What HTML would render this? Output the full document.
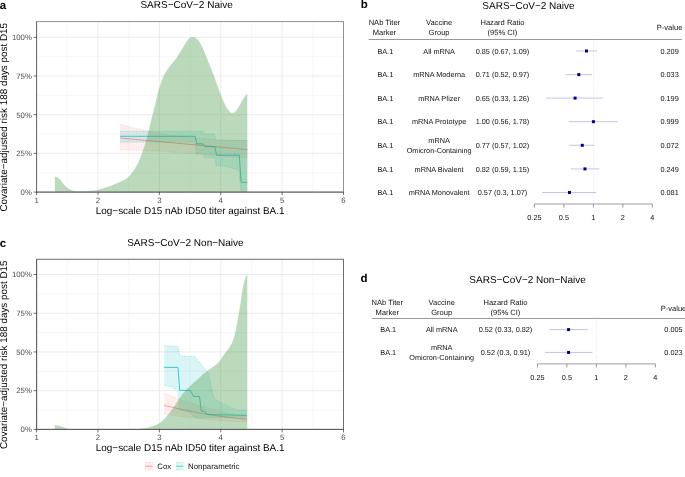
<!DOCTYPE html>
<html><head><meta charset="utf-8"><title>Figure</title>
<style>html,body{margin:0;padding:0;background:#fff;}body{width:685px;height:477px;overflow:hidden;font-family:"Liberation Sans", Arial, Helvetica, sans-serif;}svg text{font-family:"Liberation Sans", Arial, Helvetica, sans-serif;}</style>
</head><body>
<svg width="685" height="477" viewBox="0 0 685 477" font-family='"Liberation Sans", Arial, Helvetica, sans-serif' style="display:block;will-change:transform" text-rendering="geometricPrecision">
<rect x="36.6" y="21.6" width="306.9" height="170.5" fill="#fff"/>
<line x1="67.29" x2="67.29" y1="21.6" y2="192.1" stroke="#ededed" stroke-width="0.45"/>
<line x1="128.67" x2="128.67" y1="21.6" y2="192.1" stroke="#ededed" stroke-width="0.45"/>
<line x1="190.05" x2="190.05" y1="21.6" y2="192.1" stroke="#ededed" stroke-width="0.45"/>
<line x1="251.43" x2="251.43" y1="21.6" y2="192.1" stroke="#ededed" stroke-width="0.45"/>
<line x1="312.81" x2="312.81" y1="21.6" y2="192.1" stroke="#ededed" stroke-width="0.45"/>
<line x1="36.6" x2="343.5" y1="172.75" y2="172.75" stroke="#ededed" stroke-width="0.45"/>
<line x1="36.6" x2="343.5" y1="134.05" y2="134.05" stroke="#ededed" stroke-width="0.45"/>
<line x1="36.6" x2="343.5" y1="95.35" y2="95.35" stroke="#ededed" stroke-width="0.45"/>
<line x1="36.6" x2="343.5" y1="56.65" y2="56.65" stroke="#ededed" stroke-width="0.45"/>
<line x1="97.98" x2="97.98" y1="21.6" y2="192.1" stroke="#e6e6e6" stroke-width="0.8"/>
<line x1="159.36" x2="159.36" y1="21.6" y2="192.1" stroke="#e6e6e6" stroke-width="0.8"/>
<line x1="220.74" x2="220.74" y1="21.6" y2="192.1" stroke="#e6e6e6" stroke-width="0.8"/>
<line x1="282.12" x2="282.12" y1="21.6" y2="192.1" stroke="#e6e6e6" stroke-width="0.8"/>
<line x1="36.6" x2="343.5" y1="153.40" y2="153.40" stroke="#e6e6e6" stroke-width="0.8"/>
<line x1="36.6" x2="343.5" y1="114.70" y2="114.70" stroke="#e6e6e6" stroke-width="0.8"/>
<line x1="36.6" x2="343.5" y1="76.00" y2="76.00" stroke="#e6e6e6" stroke-width="0.8"/>
<line x1="36.6" x2="343.5" y1="37.30" y2="37.30" stroke="#e6e6e6" stroke-width="0.8"/>
<path d="M120.10,124.50 L123.29,125.28 L127.66,126.37 L132.86,127.66 L138.55,129.02 L144.38,130.34 L150.00,131.50 L155.54,132.53 L161.29,133.54 L167.18,134.51 L173.14,135.42 L179.11,136.26 L185.00,137.00 L190.92,137.65 L196.95,138.21 L202.97,138.69 L208.90,139.11 L214.61,139.48 L220.00,139.80 L225.32,140.06 L230.71,140.24 L235.89,140.38 L240.58,140.47 L244.51,140.54 L247.40,140.60 L247.40,158.20 L200.00,154.00 L160.00,151.20 L120.10,149.60Z" fill="#F8766D" fill-opacity="0.12" stroke="none"/>
<path d="M120.10,124.50 L123.29,125.28 L127.66,126.37 L132.86,127.66 L138.55,129.02 L144.38,130.34 L150.00,131.50 L155.54,132.53 L161.29,133.54 L167.18,134.51 L173.14,135.42 L179.11,136.26 L185.00,137.00 L190.92,137.65 L196.95,138.21 L202.97,138.69 L208.90,139.11 L214.61,139.48 L220.00,139.80 L225.32,140.06 L230.71,140.24 L235.89,140.38 L240.58,140.47 L244.51,140.54 L247.40,140.60" fill="none" stroke="#F8766D" stroke-opacity="0.7" stroke-width="0.55" stroke-dasharray="0.8 1.5"/>
<path d="M120.10,149.60 L160.00,151.20 L200.00,154.00 L247.40,158.20" fill="none" stroke="#F8766D" stroke-opacity="0.7" stroke-width="0.55" stroke-dasharray="0.8 1.5"/>
<path d="M120.10,131.20 L203.00,131.20 L204.00,133.90 L214.60,133.90 L216.00,140.40 L247.40,140.40 L247.40,192.10 L240.80,192.10 L239.00,170.00 L225.00,166.30 L216.50,166.00 L214.60,157.80 L204.50,157.80 L203.00,153.70 L196.50,153.70 L195.00,142.10 L120.10,142.10Z" fill="#00BFC4" fill-opacity="0.15" stroke="none"/>
<path d="M120.10,131.20 L203.00,131.20 L204.00,133.90 L214.60,133.90 L216.00,140.40 L247.40,140.40" fill="none" stroke="#00BFC4" stroke-opacity="0.8" stroke-width="0.55" stroke-dasharray="0.8 1.5"/>
<path d="M120.10,142.10 L195.00,142.10 L196.50,153.70 L203.00,153.70 L204.50,157.80 L214.60,157.80 L216.50,166.00 L225.00,166.30 L239.00,170.00 L240.80,192.10 L247.40,192.10" fill="none" stroke="#00BFC4" stroke-opacity="0.8" stroke-width="0.55" stroke-dasharray="0.8 1.5"/>
<path d="M120.10,138.00 L247.40,149.60" fill="none" stroke="#F8766D" stroke-width="0.7"/>
<path d="M120.10,136.30 L195.10,136.30 L196.80,143.90 L203.30,143.90 L205.00,146.60 L214.70,146.60 L216.60,155.20 L239.30,155.20 L241.10,182.30 L247.40,182.30" fill="none" stroke="#00BFC4" stroke-width="0.75" stroke-linejoin="round"/>
<path d="M54.90,192.10 L54.90,176.60 L55.17,176.67 L55.53,176.74 L55.96,176.83 L56.44,176.96 L56.93,177.15 L57.40,177.40 L57.86,177.71 L58.32,178.07 L58.80,178.48 L59.30,178.95 L59.83,179.49 L60.40,180.10 L61.02,180.83 L61.69,181.68 L62.38,182.60 L63.09,183.53 L63.80,184.41 L64.50,185.20 L65.18,185.90 L65.87,186.55 L66.55,187.16 L67.23,187.72 L67.92,188.23 L68.60,188.70 L69.26,189.11 L69.89,189.46 L70.52,189.77 L71.19,190.04 L71.90,190.28 L72.70,190.50 L73.58,190.70 L74.51,190.88 L75.49,191.03 L76.54,191.14 L77.64,191.24 L78.80,191.30 L80.02,191.34 L81.30,191.34 L82.64,191.33 L84.04,191.28 L85.49,191.20 L87.00,191.10 L88.61,190.97 L90.33,190.81 L92.10,190.63 L93.87,190.42 L95.59,190.18 L97.20,189.90 L98.68,189.59 L100.08,189.24 L101.43,188.86 L102.74,188.46 L104.06,188.04 L105.40,187.60 L106.77,187.15 L108.13,186.67 L109.50,186.17 L110.87,185.66 L112.23,185.14 L113.60,184.60 L114.99,184.05 L116.41,183.48 L117.83,182.89 L119.22,182.30 L120.55,181.70 L121.80,181.10 L122.94,180.54 L123.99,180.02 L124.98,179.50 L125.94,178.92 L126.91,178.24 L127.90,177.40 L128.94,176.37 L130.01,175.17 L131.08,173.87 L132.11,172.52 L133.10,171.18 L134.00,169.90 L134.80,168.72 L135.51,167.59 L136.18,166.47 L136.81,165.31 L137.44,164.07 L138.10,162.70 L138.78,161.20 L139.47,159.60 L140.15,157.92 L140.83,156.17 L141.52,154.36 L142.20,152.50 L142.91,150.52 L143.64,148.40 L144.38,146.22 L145.09,144.07 L145.74,142.04 L146.30,140.20 L146.74,138.67 L147.06,137.40 L147.33,136.25 L147.59,135.06 L147.90,133.70 L148.30,132.00 L148.81,129.92 L149.39,127.55 L150.01,125.01 L150.65,122.38 L151.29,119.78 L151.90,117.30 L152.49,114.94 L153.08,112.60 L153.66,110.29 L154.24,108.00 L154.82,105.70 L155.40,103.40 L155.97,101.05 L156.54,98.67 L157.10,96.28 L157.66,93.94 L158.23,91.70 L158.80,89.60 L159.38,87.63 L159.96,85.75 L160.55,83.97 L161.14,82.28 L161.72,80.69 L162.30,79.20 L162.86,77.85 L163.39,76.64 L163.93,75.53 L164.47,74.47 L165.06,73.41 L165.70,72.30 L166.40,71.15 L167.13,70.00 L167.91,68.86 L168.71,67.71 L169.54,66.56 L170.40,65.40 L171.29,64.26 L172.22,63.16 L173.18,62.04 L174.16,60.90 L175.13,59.70 L176.10,58.40 L177.07,56.98 L178.07,55.44 L179.07,53.84 L180.05,52.23 L181.00,50.67 L181.90,49.20 L182.75,47.80 L183.56,46.40 L184.34,45.06 L185.09,43.79 L185.81,42.62 L186.50,41.60 L187.16,40.73 L187.78,39.97 L188.37,39.33 L188.93,38.78 L189.48,38.31 L190.00,37.90 L190.49,37.57 L190.95,37.33 L191.38,37.16 L191.81,37.06 L192.24,37.01 L192.70,37.00 L193.18,37.01 L193.66,37.06 L194.15,37.16 L194.65,37.33 L195.17,37.57 L195.70,37.90 L196.24,38.30 L196.79,38.74 L197.35,39.26 L197.93,39.89 L198.55,40.66 L199.20,41.60 L199.90,42.74 L200.65,44.06 L201.43,45.51 L202.23,47.08 L203.02,48.72 L203.80,50.40 L204.57,52.16 L205.33,54.03 L206.10,55.98 L206.87,57.97 L207.63,59.95 L208.40,61.90 L209.17,63.80 L209.93,65.69 L210.70,67.58 L211.47,69.48 L212.23,71.41 L213.00,73.40 L213.77,75.45 L214.53,77.54 L215.29,79.67 L216.06,81.82 L216.83,83.97 L217.60,86.10 L218.38,88.26 L219.16,90.46 L219.95,92.67 L220.74,94.83 L221.52,96.89 L222.30,98.80 L223.09,100.59 L223.89,102.31 L224.68,103.93 L225.46,105.43 L226.20,106.80 L226.90,108.00 L227.55,109.03 L228.16,109.89 L228.74,110.62 L229.29,111.23 L229.81,111.75 L230.30,112.20 L230.74,112.57 L231.12,112.84 L231.48,113.01 L231.82,113.11 L232.19,113.13 L232.60,113.10 L233.05,113.03 L233.51,112.91 L234.00,112.72 L234.51,112.44 L235.04,112.04 L235.60,111.50 L236.20,110.78 L236.85,109.90 L237.52,108.90 L238.20,107.83 L238.86,106.75 L239.50,105.70 L240.11,104.65 L240.70,103.55 L241.28,102.43 L241.85,101.33 L242.42,100.28 L243.00,99.30 L243.61,98.37 L244.27,97.45 L244.92,96.57 L245.53,95.79 L246.07,95.11 L246.50,94.60 L246.80,94.28 L247.00,94.13 L247.12,94.11 L247.19,94.14 L247.24,94.19 L247.30,94.20 L247.30,192.10Z" fill="#4d9f4d" fill-opacity="0.38" stroke="none"/>
<rect x="36.6" y="21.6" width="306.9" height="170.5" fill="none" stroke="#808080" stroke-width="0.85"/>
<line x1="36.6" x2="36.6" y1="21.6" y2="192.1" stroke="#505050" stroke-width="0.65"/>
<line x1="36.300000000000004" x2="343.8" y1="192.1" y2="192.1" stroke="#5a5a5a" stroke-width="0.88"/>
<line x1="33.6" x2="36.6" y1="192.10" y2="192.10" stroke="#333" stroke-width="0.7"/>
<text x="31.90" y="194.90" text-anchor="end" font-size="7.8" fill="#4d4d4d">0%</text>
<line x1="33.6" x2="36.6" y1="153.40" y2="153.40" stroke="#333" stroke-width="0.7"/>
<text x="31.90" y="156.20" text-anchor="end" font-size="7.8" fill="#4d4d4d">25%</text>
<line x1="33.6" x2="36.6" y1="114.70" y2="114.70" stroke="#333" stroke-width="0.7"/>
<text x="31.90" y="117.50" text-anchor="end" font-size="7.8" fill="#4d4d4d">50%</text>
<line x1="33.6" x2="36.6" y1="76.00" y2="76.00" stroke="#333" stroke-width="0.7"/>
<text x="31.90" y="78.80" text-anchor="end" font-size="7.8" fill="#4d4d4d">75%</text>
<line x1="33.6" x2="36.6" y1="37.30" y2="37.30" stroke="#333" stroke-width="0.7"/>
<text x="31.90" y="40.10" text-anchor="end" font-size="7.8" fill="#4d4d4d">100%</text>
<line x1="36.60" x2="36.60" y1="192.1" y2="195.1" stroke="#333" stroke-width="0.7"/>
<text x="36.60" y="202.85" text-anchor="middle" font-size="7.8" fill="#4d4d4d">1</text>
<line x1="97.98" x2="97.98" y1="192.1" y2="195.1" stroke="#333" stroke-width="0.7"/>
<text x="97.98" y="202.85" text-anchor="middle" font-size="7.8" fill="#4d4d4d">2</text>
<line x1="159.36" x2="159.36" y1="192.1" y2="195.1" stroke="#333" stroke-width="0.7"/>
<text x="159.36" y="202.85" text-anchor="middle" font-size="7.8" fill="#4d4d4d">3</text>
<line x1="220.74" x2="220.74" y1="192.1" y2="195.1" stroke="#333" stroke-width="0.7"/>
<text x="220.74" y="202.85" text-anchor="middle" font-size="7.8" fill="#4d4d4d">4</text>
<line x1="282.12" x2="282.12" y1="192.1" y2="195.1" stroke="#333" stroke-width="0.7"/>
<text x="282.12" y="202.85" text-anchor="middle" font-size="7.8" fill="#4d4d4d">5</text>
<line x1="343.50" x2="343.50" y1="192.1" y2="195.1" stroke="#333" stroke-width="0.7"/>
<text x="343.50" y="202.85" text-anchor="middle" font-size="7.8" fill="#4d4d4d">6</text>
<text x="190.15" y="213.70" text-anchor="middle" font-size="9.91" fill="#000">Log−scale D15 nAb ID50 titer against BA.1</text>
<text transform="translate(6.9,117.25) rotate(-90)" text-anchor="middle" font-size="9.89" fill="#000">Covariate−adjusted risk 188 days post D15</text>
<text x="186.6" y="8.3" text-anchor="middle" font-size="10" fill="#000">SARS−CoV−2 Naive</text>
<text x="-0.3" y="9.3" font-size="11.5" font-weight="bold" fill="#000">a</text>
<rect x="36.6" y="259.3" width="306.9" height="170.09999999999997" fill="#fff"/>
<line x1="67.29" x2="67.29" y1="259.3" y2="429.4" stroke="#ededed" stroke-width="0.45"/>
<line x1="128.67" x2="128.67" y1="259.3" y2="429.4" stroke="#ededed" stroke-width="0.45"/>
<line x1="190.05" x2="190.05" y1="259.3" y2="429.4" stroke="#ededed" stroke-width="0.45"/>
<line x1="251.43" x2="251.43" y1="259.3" y2="429.4" stroke="#ededed" stroke-width="0.45"/>
<line x1="312.81" x2="312.81" y1="259.3" y2="429.4" stroke="#ededed" stroke-width="0.45"/>
<line x1="36.6" x2="343.5" y1="410.04" y2="410.04" stroke="#ededed" stroke-width="0.45"/>
<line x1="36.6" x2="343.5" y1="371.31" y2="371.31" stroke="#ededed" stroke-width="0.45"/>
<line x1="36.6" x2="343.5" y1="332.59" y2="332.59" stroke="#ededed" stroke-width="0.45"/>
<line x1="36.6" x2="343.5" y1="293.86" y2="293.86" stroke="#ededed" stroke-width="0.45"/>
<line x1="97.98" x2="97.98" y1="259.3" y2="429.4" stroke="#e6e6e6" stroke-width="0.8"/>
<line x1="159.36" x2="159.36" y1="259.3" y2="429.4" stroke="#e6e6e6" stroke-width="0.8"/>
<line x1="220.74" x2="220.74" y1="259.3" y2="429.4" stroke="#e6e6e6" stroke-width="0.8"/>
<line x1="282.12" x2="282.12" y1="259.3" y2="429.4" stroke="#e6e6e6" stroke-width="0.8"/>
<line x1="36.6" x2="343.5" y1="390.67" y2="390.67" stroke="#e6e6e6" stroke-width="0.8"/>
<line x1="36.6" x2="343.5" y1="351.95" y2="351.95" stroke="#e6e6e6" stroke-width="0.8"/>
<line x1="36.6" x2="343.5" y1="313.23" y2="313.23" stroke="#e6e6e6" stroke-width="0.8"/>
<line x1="36.6" x2="343.5" y1="274.50" y2="274.50" stroke="#e6e6e6" stroke-width="0.8"/>
<path d="M164.20,393.40 L165.87,394.06 L168.14,394.97 L170.85,396.04 L173.84,397.21 L176.94,398.39 L180.00,399.50 L183.03,400.56 L186.17,401.64 L189.43,402.73 L192.81,403.82 L196.33,404.91 L200.00,406.00 L203.91,407.11 L208.07,408.26 L212.38,409.41 L216.70,410.52 L220.95,411.56 L225.00,412.50 L229.09,413.36 L233.37,414.17 L237.56,414.91 L241.41,415.56 L244.64,416.09 L247.00,416.50 L247.00,422.30 L244.10,422.12 L240.11,421.87 L235.38,421.58 L230.22,421.25 L224.99,420.88 L220.00,420.50 L215.12,420.09 L210.07,419.63 L204.93,419.15 L199.80,418.64 L194.79,418.12 L190.00,417.60 L185.16,417.02 L180.13,416.38 L175.22,415.72 L170.73,415.10 L166.96,414.58 L164.20,414.20Z" fill="#F8766D" fill-opacity="0.12" stroke="none"/>
<path d="M164.20,393.40 L165.87,394.06 L168.14,394.97 L170.85,396.04 L173.84,397.21 L176.94,398.39 L180.00,399.50 L183.03,400.56 L186.17,401.64 L189.43,402.73 L192.81,403.82 L196.33,404.91 L200.00,406.00 L203.91,407.11 L208.07,408.26 L212.38,409.41 L216.70,410.52 L220.95,411.56 L225.00,412.50 L229.09,413.36 L233.37,414.17 L237.56,414.91 L241.41,415.56 L244.64,416.09 L247.00,416.50" fill="none" stroke="#F8766D" stroke-opacity="0.7" stroke-width="0.55" stroke-dasharray="0.8 1.5"/>
<path d="M164.20,414.20 L166.96,414.58 L170.73,415.10 L175.22,415.72 L180.13,416.38 L185.16,417.02 L190.00,417.60 L194.79,418.12 L199.80,418.64 L204.93,419.15 L210.07,419.63 L215.12,420.09 L220.00,420.50 L224.99,420.88 L230.22,421.25 L235.38,421.58 L240.11,421.87 L244.10,422.12 L247.00,422.30" fill="none" stroke="#F8766D" stroke-opacity="0.7" stroke-width="0.55" stroke-dasharray="0.8 1.5"/>
<path d="M164.20,345.50 L178.00,346.60 L180.00,355.80 L194.90,356.50 L208.00,372.70 L210.80,384.00 L213.00,394.00 L215.30,399.30 L220.00,402.00 L232.30,408.40 L239.20,410.30 L247.00,410.30 L247.00,417.30 L210.00,417.50 L200.40,418.10 L193.50,416.50 L190.00,413.00 L179.70,409.60 L178.00,390.40 L172.30,387.20 L164.20,385.40Z" fill="#00BFC4" fill-opacity="0.15" stroke="none"/>
<path d="M164.20,345.50 L178.00,346.60 L180.00,355.80 L194.90,356.50 L208.00,372.70 L210.80,384.00 L213.00,394.00 L215.30,399.30 L220.00,402.00 L232.30,408.40 L239.20,410.30 L247.00,410.30" fill="none" stroke="#00BFC4" stroke-opacity="0.8" stroke-width="0.55" stroke-dasharray="0.8 1.5"/>
<path d="M164.20,385.40 L172.30,387.20 L178.00,390.40 L179.70,409.60 L190.00,413.00 L193.50,416.50 L200.40,418.10 L210.00,417.50 L247.00,417.30" fill="none" stroke="#00BFC4" stroke-opacity="0.8" stroke-width="0.55" stroke-dasharray="0.8 1.5"/>
<path d="M164.20,405.40 L166.96,406.04 L170.73,406.93 L175.22,407.99 L180.13,409.11 L185.16,410.21 L190.00,411.20 L194.79,412.10 L199.80,413.00 L204.93,413.87 L210.07,414.70 L215.12,415.49 L220.00,416.20 L224.99,416.86 L230.22,417.49 L235.38,418.06 L240.11,418.57 L244.10,418.98 L247.00,419.30" fill="none" stroke="#F8766D" stroke-width="0.7"/>
<path d="M164.20,367.40 L178.00,367.40 L179.70,390.40 L190.30,390.40 L193.50,396.40 L199.50,396.40 L201.30,411.20 L204.60,411.20 L206.90,414.60 L247.00,415.30" fill="none" stroke="#00BFC4" stroke-width="0.75" stroke-linejoin="round"/>
<path d="M54.80,429.40 L54.80,424.90 L55.54,425.06 L56.57,425.28 L57.78,425.55 L59.06,425.86 L60.30,426.20 L61.53,426.60 L62.82,427.07 L64.13,427.56 L65.40,428.02 L66.60,428.40 L67.71,428.69 L68.76,428.92 L69.78,429.12 L70.75,429.27 L71.70,429.40 L72.68,429.49 L73.68,429.55 L74.63,429.57 L75.43,429.59 L76.00,429.60 L125.00,429.60 L125.58,429.58 L126.34,429.57 L127.27,429.54 L128.32,429.51 L129.48,429.46 L130.70,429.40 L132.07,429.31 L133.62,429.21 L135.27,429.09 L136.94,428.97 L138.55,428.83 L140.00,428.70 L141.33,428.56 L142.62,428.41 L143.84,428.26 L144.97,428.11 L146.00,427.95 L146.90,427.80 L147.62,427.66 L148.16,427.53 L148.59,427.39 L148.99,427.25 L149.43,427.09 L150.00,426.90 L150.69,426.68 L151.45,426.44 L152.25,426.17 L153.07,425.90 L153.90,425.60 L154.70,425.30 L155.46,425.02 L156.21,424.77 L156.95,424.51 L157.71,424.19 L158.52,423.77 L159.40,423.20 L160.34,422.50 L161.32,421.70 L162.35,420.81 L163.42,419.80 L164.54,418.66 L165.70,417.40 L166.92,415.97 L168.21,414.39 L169.55,412.68 L170.91,410.88 L172.26,409.04 L173.60,407.20 L174.92,405.29 L176.24,403.27 L177.56,401.21 L178.87,399.16 L180.19,397.21 L181.50,395.40 L182.80,393.75 L184.10,392.21 L185.40,390.75 L186.70,389.36 L188.00,388.02 L189.30,386.70 L190.61,385.44 L191.93,384.24 L193.24,383.10 L194.56,381.98 L195.88,380.85 L197.20,379.70 L198.52,378.50 L199.84,377.28 L201.16,376.06 L202.47,374.85 L203.79,373.69 L205.10,372.60 L206.42,371.59 L207.76,370.65 L209.10,369.75 L210.41,368.87 L211.69,368.00 L212.90,367.10 L214.05,366.20 L215.17,365.33 L216.24,364.45 L217.27,363.55 L218.25,362.61 L219.20,361.60 L220.09,360.49 L220.93,359.30 L221.72,358.06 L222.49,356.82 L223.24,355.62 L224.00,354.50 L224.77,353.47 L225.53,352.50 L226.28,351.57 L227.01,350.66 L227.72,349.74 L228.40,348.80 L229.04,347.88 L229.65,347.00 L230.24,346.12 L230.80,345.19 L231.36,344.16 L231.90,343.00 L232.43,341.72 L232.95,340.36 L233.45,338.90 L233.94,337.33 L234.42,335.64 L234.90,333.80 L235.37,331.79 L235.82,329.63 L236.26,327.34 L236.70,324.95 L237.15,322.49 L237.60,320.00 L238.06,317.44 L238.54,314.77 L239.01,312.04 L239.49,309.28 L239.95,306.52 L240.40,303.80 L240.84,301.03 L241.26,298.17 L241.68,295.32 L242.09,292.56 L242.50,289.99 L242.90,287.70 L243.30,285.69 L243.69,283.90 L244.07,282.29 L244.46,280.85 L244.83,279.56 L245.20,278.40 L245.59,277.39 L245.99,276.56 L246.39,275.87 L246.76,275.31 L247.07,274.86 L247.30,274.50 L247.30,429.40Z" fill="#4d9f4d" fill-opacity="0.38" stroke="none"/>
<rect x="36.6" y="259.3" width="306.9" height="170.09999999999997" fill="none" stroke="#6e6e6e" stroke-width="1.0"/>
<line x1="36.6" x2="36.6" y1="259.3" y2="429.4" stroke="#505050" stroke-width="0.65"/>
<line x1="36.300000000000004" x2="343.8" y1="429.4" y2="429.4" stroke="#5a5a5a" stroke-width="0.88"/>
<line x1="33.6" x2="36.6" y1="429.40" y2="429.40" stroke="#333" stroke-width="0.7"/>
<text x="31.90" y="432.20" text-anchor="end" font-size="7.8" fill="#4d4d4d">0%</text>
<line x1="33.6" x2="36.6" y1="390.67" y2="390.67" stroke="#333" stroke-width="0.7"/>
<text x="31.90" y="393.47" text-anchor="end" font-size="7.8" fill="#4d4d4d">25%</text>
<line x1="33.6" x2="36.6" y1="351.95" y2="351.95" stroke="#333" stroke-width="0.7"/>
<text x="31.90" y="354.75" text-anchor="end" font-size="7.8" fill="#4d4d4d">50%</text>
<line x1="33.6" x2="36.6" y1="313.23" y2="313.23" stroke="#333" stroke-width="0.7"/>
<text x="31.90" y="316.03" text-anchor="end" font-size="7.8" fill="#4d4d4d">75%</text>
<line x1="33.6" x2="36.6" y1="274.50" y2="274.50" stroke="#333" stroke-width="0.7"/>
<text x="31.90" y="277.30" text-anchor="end" font-size="7.8" fill="#4d4d4d">100%</text>
<line x1="36.60" x2="36.60" y1="429.4" y2="432.4" stroke="#333" stroke-width="0.7"/>
<text x="36.60" y="440.15" text-anchor="middle" font-size="7.8" fill="#4d4d4d">1</text>
<line x1="97.98" x2="97.98" y1="429.4" y2="432.4" stroke="#333" stroke-width="0.7"/>
<text x="97.98" y="440.15" text-anchor="middle" font-size="7.8" fill="#4d4d4d">2</text>
<line x1="159.36" x2="159.36" y1="429.4" y2="432.4" stroke="#333" stroke-width="0.7"/>
<text x="159.36" y="440.15" text-anchor="middle" font-size="7.8" fill="#4d4d4d">3</text>
<line x1="220.74" x2="220.74" y1="429.4" y2="432.4" stroke="#333" stroke-width="0.7"/>
<text x="220.74" y="440.15" text-anchor="middle" font-size="7.8" fill="#4d4d4d">4</text>
<line x1="282.12" x2="282.12" y1="429.4" y2="432.4" stroke="#333" stroke-width="0.7"/>
<text x="282.12" y="440.15" text-anchor="middle" font-size="7.8" fill="#4d4d4d">5</text>
<line x1="343.50" x2="343.50" y1="429.4" y2="432.4" stroke="#333" stroke-width="0.7"/>
<text x="343.50" y="440.15" text-anchor="middle" font-size="7.8" fill="#4d4d4d">6</text>
<text x="190.15" y="451.00" text-anchor="middle" font-size="9.91" fill="#000">Log−scale D15 nAb ID50 titer against BA.1</text>
<text transform="translate(6.9,354.75) rotate(-90)" text-anchor="middle" font-size="9.89" fill="#000">Covariate−adjusted risk 188 days post D15</text>
<text x="185.4" y="246.2" text-anchor="middle" font-size="10" fill="#000">SARS−CoV−2 Non−Naive</text>
<text x="-0.3" y="246.8" font-size="11.5" font-weight="bold" fill="#000">c</text>
<rect x="145.1" y="462.4" width="7.5" height="7.7" fill="#F8766D" fill-opacity="0.13"/>
<line x1="145.1" x2="152.6" y1="462.6" y2="462.6" stroke="#F8766D" stroke-width="0.55" stroke-dasharray="0.8 1.5" stroke-opacity="0.8"/>
<line x1="145.1" x2="152.6" y1="469.9" y2="469.9" stroke="#F8766D" stroke-width="0.55" stroke-dasharray="0.8 1.5" stroke-opacity="0.8"/>
<line x1="145.1" x2="152.6" y1="466.25" y2="466.25" stroke="#F8766D" stroke-width="0.65"/>
<rect x="175.9" y="462.4" width="7.5" height="7.7" fill="#00BFC4" fill-opacity="0.13"/>
<line x1="175.9" x2="183.4" y1="462.6" y2="462.6" stroke="#00BFC4" stroke-width="0.55" stroke-dasharray="0.8 1.5" stroke-opacity="0.8"/>
<line x1="175.9" x2="183.4" y1="469.9" y2="469.9" stroke="#00BFC4" stroke-width="0.55" stroke-dasharray="0.8 1.5" stroke-opacity="0.8"/>
<line x1="175.9" x2="183.4" y1="466.25" y2="466.25" stroke="#00BFC4" stroke-width="0.65"/>
<text x="157.3" y="468.95" font-size="7.8" fill="#111">Cox</text>
<text x="188.1" y="468.95" font-size="7.85" fill="#111">Nonparametric</text>
<text x="360.8" y="8.1" font-size="11.5" font-weight="bold" fill="#000">b</text>
<text x="528.5" y="9.3" text-anchor="middle" font-size="10" fill="#000">SARS−CoV−2 Naive</text>
<text x="384.4" y="24.900000000000002" text-anchor="middle" font-size="7.55" fill="#111">NAb Titer</text>
<text x="384.4" y="35.199999999999996" text-anchor="middle" font-size="7.55" fill="#111">Marker</text>
<text x="439.1" y="24.900000000000002" text-anchor="middle" font-size="7.55" fill="#111">Vaccine</text>
<text x="439.1" y="35.199999999999996" text-anchor="middle" font-size="7.55" fill="#111">Group</text>
<text x="502.5" y="24.900000000000002" text-anchor="middle" font-size="7.55" fill="#111">Hazard Ratio</text>
<text x="502.5" y="35.199999999999996" text-anchor="middle" font-size="7.55" fill="#111">(95% CI)</text>
<text x="669.6" y="30.45" text-anchor="middle" font-size="7.55" fill="#111">P-value</text>
<line x1="368.7" x2="681.8" y1="39.5" y2="39.5" stroke="#555" stroke-width="0.6"/>
<line x1="593.4" x2="593.4" y1="39.5" y2="204.0" stroke="#d2d2f6" stroke-width="0.6" stroke-dasharray="0.9 1.3"/>
<text x="385.29999999999995" y="53.60" text-anchor="middle" font-size="7.3" fill="#111">BA.1</text>
<text x="439.1" y="53.60" text-anchor="middle" font-size="7.3" fill="#111">All mRNA</text>
<text x="502.5" y="53.60" text-anchor="middle" font-size="7.3" fill="#111">0.85 (0.67, 1.09)</text>
<text x="669.6" y="53.60" text-anchor="middle" font-size="7.3" fill="#111">0.209</text>
<line x1="576.36" x2="597.07" y1="51.0" y2="51.0" stroke="#a4a4dc" stroke-width="0.65"/>
<rect x="584.98" y="49.50" width="3" height="3" fill="#00008b"/>
<text x="385.29999999999995" y="77.20" text-anchor="middle" font-size="7.3" fill="#111">BA.1</text>
<text x="439.1" y="77.20" text-anchor="middle" font-size="7.3" fill="#111">mRNA Moderna</text>
<text x="502.5" y="77.20" text-anchor="middle" font-size="7.3" fill="#111">0.71 (0.52, 0.97)</text>
<text x="669.6" y="77.20" text-anchor="middle" font-size="7.3" fill="#111">0.033</text>
<line x1="565.57" x2="592.10" y1="74.6" y2="74.6" stroke="#a4a4dc" stroke-width="0.65"/>
<rect x="577.32" y="73.10" width="3" height="3" fill="#00008b"/>
<text x="385.29999999999995" y="100.70" text-anchor="middle" font-size="7.3" fill="#111">BA.1</text>
<text x="439.1" y="100.70" text-anchor="middle" font-size="7.3" fill="#111">mRNA Pfizer</text>
<text x="502.5" y="100.70" text-anchor="middle" font-size="7.3" fill="#111">0.65 (0.33, 1.26)</text>
<text x="669.6" y="100.70" text-anchor="middle" font-size="7.3" fill="#111">0.199</text>
<line x1="546.22" x2="603.24" y1="98.1" y2="98.1" stroke="#a4a4dc" stroke-width="0.65"/>
<rect x="573.57" y="96.60" width="3" height="3" fill="#00008b"/>
<text x="385.29999999999995" y="124.30" text-anchor="middle" font-size="7.3" fill="#111">BA.1</text>
<text x="439.1" y="124.30" text-anchor="middle" font-size="7.3" fill="#111">mRNA Prototype</text>
<text x="502.5" y="124.30" text-anchor="middle" font-size="7.3" fill="#111">1.00 (0.56, 1.78)</text>
<text x="669.6" y="124.30" text-anchor="middle" font-size="7.3" fill="#111">0.999</text>
<line x1="568.72" x2="617.94" y1="121.7" y2="121.7" stroke="#a4a4dc" stroke-width="0.65"/>
<rect x="591.90" y="120.20" width="3" height="3" fill="#00008b"/>
<text x="385.29999999999995" y="147.90" text-anchor="middle" font-size="7.3" fill="#111">BA.1</text>
<text x="439.1" y="143.00" text-anchor="middle" font-size="7.3" fill="#111">mRNA</text>
<text x="439.1" y="153.30" text-anchor="middle" font-size="7.3" fill="#111">Omicron-Containing</text>
<text x="502.5" y="147.90" text-anchor="middle" font-size="7.3" fill="#111">0.77 (0.57, 1.02)</text>
<text x="669.6" y="147.90" text-anchor="middle" font-size="7.3" fill="#111">0.072</text>
<line x1="569.48" x2="594.24" y1="145.3" y2="145.3" stroke="#a4a4dc" stroke-width="0.65"/>
<rect x="580.78" y="143.80" width="3" height="3" fill="#00008b"/>
<text x="385.29999999999995" y="171.50" text-anchor="middle" font-size="7.3" fill="#111">BA.1</text>
<text x="439.1" y="171.50" text-anchor="middle" font-size="7.3" fill="#111">mRNA Bivalent</text>
<text x="502.5" y="171.50" text-anchor="middle" font-size="7.3" fill="#111">0.82 (0.59, 1.15)</text>
<text x="669.6" y="171.50" text-anchor="middle" font-size="7.3" fill="#111">0.249</text>
<line x1="570.94" x2="599.35" y1="168.9" y2="168.9" stroke="#a4a4dc" stroke-width="0.65"/>
<rect x="583.45" y="167.40" width="3" height="3" fill="#00008b"/>
<text x="385.29999999999995" y="195.10" text-anchor="middle" font-size="7.3" fill="#111">BA.1</text>
<text x="439.1" y="195.10" text-anchor="middle" font-size="7.3" fill="#111">mRNA Monovalent</text>
<text x="502.5" y="195.10" text-anchor="middle" font-size="7.3" fill="#111">0.57 (0.3, 1.07)</text>
<text x="669.6" y="195.10" text-anchor="middle" font-size="7.3" fill="#111">0.081</text>
<line x1="542.16" x2="596.28" y1="192.5" y2="192.5" stroke="#a4a4dc" stroke-width="0.65"/>
<rect x="567.98" y="191.00" width="3" height="3" fill="#00008b"/>
<line x1="534.40" x2="652.40" y1="204.0" y2="204.0" stroke="#5a5a5a" stroke-width="0.6"/>
<line x1="534.40" x2="534.40" y1="204.0" y2="207.6" stroke="#5a5a5a" stroke-width="0.6"/>
<text x="534.40" y="220.0" text-anchor="middle" font-size="7.3" fill="#111">0.25</text>
<line x1="563.90" x2="563.90" y1="204.0" y2="207.6" stroke="#5a5a5a" stroke-width="0.6"/>
<text x="563.90" y="220.0" text-anchor="middle" font-size="7.3" fill="#111">0.5</text>
<line x1="593.40" x2="593.40" y1="204.0" y2="207.6" stroke="#5a5a5a" stroke-width="0.6"/>
<text x="593.40" y="220.0" text-anchor="middle" font-size="7.3" fill="#111">1</text>
<line x1="622.90" x2="622.90" y1="204.0" y2="207.6" stroke="#5a5a5a" stroke-width="0.6"/>
<text x="622.90" y="220.0" text-anchor="middle" font-size="7.3" fill="#111">2</text>
<line x1="652.40" x2="652.40" y1="204.0" y2="207.6" stroke="#5a5a5a" stroke-width="0.6"/>
<text x="652.40" y="220.0" text-anchor="middle" font-size="7.3" fill="#111">4</text>
<text x="360.6" y="281.7" font-size="11.5" font-weight="bold" fill="#000">d</text>
<text x="527.6" y="282.5" text-anchor="middle" font-size="10" fill="#000">SARS−CoV−2 Non−Naive</text>
<text x="387.3" y="305.0" text-anchor="middle" font-size="7.55" fill="#111">NAb Titer</text>
<text x="387.3" y="315.40000000000003" text-anchor="middle" font-size="7.55" fill="#111">Marker</text>
<text x="441.7" y="305.0" text-anchor="middle" font-size="7.55" fill="#111">Vaccine</text>
<text x="441.7" y="315.40000000000003" text-anchor="middle" font-size="7.55" fill="#111">Group</text>
<text x="505.5" y="305.0" text-anchor="middle" font-size="7.55" fill="#111">Hazard Ratio</text>
<text x="505.5" y="315.40000000000003" text-anchor="middle" font-size="7.55" fill="#111">(95% CI)</text>
<text x="673.5" y="310.59999999999997" text-anchor="middle" font-size="7.55" fill="#111">P-value</text>
<line x1="372.1" x2="685" y1="318.5" y2="318.5" stroke="#555" stroke-width="0.6"/>
<line x1="596.4" x2="596.4" y1="318.5" y2="363.9" stroke="#d2d2f6" stroke-width="0.6" stroke-dasharray="0.9 1.3"/>
<text x="388.2" y="332.20" text-anchor="middle" font-size="7.3" fill="#111">BA.1</text>
<text x="441.7" y="332.20" text-anchor="middle" font-size="7.3" fill="#111">All mRNA</text>
<text x="505.5" y="332.20" text-anchor="middle" font-size="7.3" fill="#111">0.52 (0.33, 0.82)</text>
<text x="673.5" y="332.20" text-anchor="middle" font-size="7.3" fill="#111">0.005</text>
<line x1="549.22" x2="587.95" y1="329.6" y2="329.6" stroke="#a4a4dc" stroke-width="0.65"/>
<rect x="567.07" y="328.10" width="3" height="3" fill="#00008b"/>
<text x="388.2" y="355.05" text-anchor="middle" font-size="7.3" fill="#111">BA.1</text>
<text x="441.7" y="350.15" text-anchor="middle" font-size="7.3" fill="#111">mRNA</text>
<text x="441.7" y="360.45" text-anchor="middle" font-size="7.3" fill="#111">Omicron-Containing</text>
<text x="505.5" y="355.05" text-anchor="middle" font-size="7.3" fill="#111">0.52 (0.3, 0.91)</text>
<text x="673.5" y="355.05" text-anchor="middle" font-size="7.3" fill="#111">0.023</text>
<line x1="545.16" x2="592.39" y1="352.45" y2="352.45" stroke="#a4a4dc" stroke-width="0.65"/>
<rect x="567.07" y="350.95" width="3" height="3" fill="#00008b"/>
<line x1="537.40" x2="655.40" y1="363.9" y2="363.9" stroke="#5a5a5a" stroke-width="0.6"/>
<line x1="537.40" x2="537.40" y1="363.9" y2="367.5" stroke="#5a5a5a" stroke-width="0.6"/>
<text x="537.40" y="379.90000000000003" text-anchor="middle" font-size="7.3" fill="#111">0.25</text>
<line x1="566.90" x2="566.90" y1="363.9" y2="367.5" stroke="#5a5a5a" stroke-width="0.6"/>
<text x="566.90" y="379.90000000000003" text-anchor="middle" font-size="7.3" fill="#111">0.5</text>
<line x1="596.40" x2="596.40" y1="363.9" y2="367.5" stroke="#5a5a5a" stroke-width="0.6"/>
<text x="596.40" y="379.90000000000003" text-anchor="middle" font-size="7.3" fill="#111">1</text>
<line x1="625.90" x2="625.90" y1="363.9" y2="367.5" stroke="#5a5a5a" stroke-width="0.6"/>
<text x="625.90" y="379.90000000000003" text-anchor="middle" font-size="7.3" fill="#111">2</text>
<line x1="655.40" x2="655.40" y1="363.9" y2="367.5" stroke="#5a5a5a" stroke-width="0.6"/>
<text x="655.40" y="379.90000000000003" text-anchor="middle" font-size="7.3" fill="#111">4</text>
</svg>
</body></html>
